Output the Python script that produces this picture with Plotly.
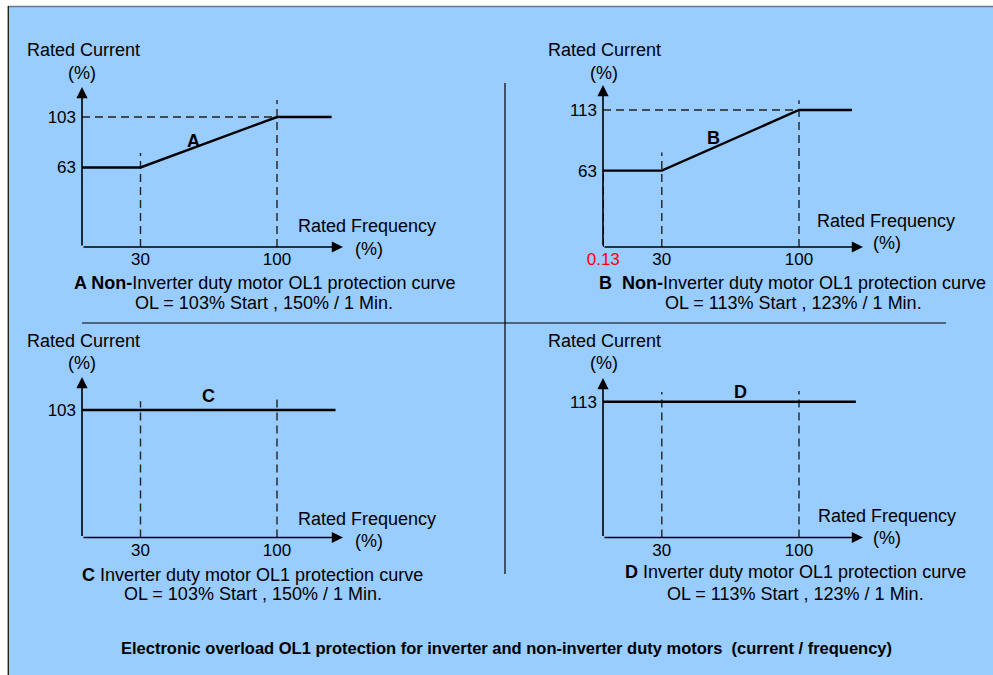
import plotly.graph_objects as go

W, H = 993, 675

# ---------------- data ----------------
freq_A = [0, 30, 100, 128]
curr_A = [63, 63, 103, 103]
freq_B = [0, 30, 100, 127]
curr_B = [63, 63, 113, 113]
freq_C = [0, 30, 100, 130]
curr_C = [103, 103, 103, 103]
freq_D = [0, 30, 100, 129]
curr_D = [113, 113, 113, 113]

xticks_A = [30, 100]
xticks_B = [0.13, 30, 100]
xticks_C = [30, 100]
xticks_D = [30, 100]
yticks_A = [63, 103]
yticks_B = [63, 113]
yticks_C = [103]
yticks_D = [113]

# dashed guides: (frequency, top current) for verticals, current level for horizontals
vguides_A = [(30, 74.5), (100, 116.5)]
vguides_B = [(0.13, 63), (30, 78), (100, 121)]
vguides_C = [(30, 110), (100, 112)]
vguides_D = [(30, 121), (100, 122)]
hguides_A = [103]
hguides_B = [113]
hguides_C = []
hguides_D = []

curve_labels = ["A", "B", "C", "D"]
captions_1 = [
    "<b>A Non-</b>Inverter duty motor OL1 protection curve",
    "<b>B&nbsp; Non-</b>Inverter duty motor OL1 protection curve",
    "<b>C</b> Inverter duty motor OL1 protection curve",
    "<b>D</b> Inverter duty motor OL1 protection curve",
]
captions_2 = [
    "OL = 103% Start , 150% / 1 Min.",
    "OL = 113% Start , 123% / 1 Min.",
    "OL = 103% Start , 150% / 1 Min.",
    "OL = 113% Start , 123% / 1 Min.",
]
y_title = "Rated Current"
x_title = "Rated Frequency"
unit = "(%)"
main_title = ("<b>Electronic overload OL1 protection for inverter and non-inverter duty motors"
              "&nbsp; (current / frequency)</b>")

# ---------------- layout geometry (pixels) ----------------
FONT = "Liberation Sans, Arial, sans-serif"
BG = "#99CCFF"

def P(x, y):
    return x / W, 1 - y / H

# x0px, x100px, xtip, y0px, yval, ypx, ytip
geoms = [
    (82, 277, 343, 247, 103, 117, 87),
    (603, 799, 863, 247, 113, 110, 85),
    (82, 277, 343, 537.5, 103, 410, 377),
    (603, 799, 863, 537.5, 113, 401.7, 378),
]
text_pos = [
    dict(rc=(83, 50), rcu=(82, 73), rf=(367, 226), rfu=(369, 249), lab=(193, 141), c1=(264, 283), c2=(264, 303)),
    dict(rc=(604, 50), rcu=(604, 73), rf=(886, 221), rfu=(887, 243), lab=(713, 138), c1=(792, 283), c2=(793, 303)),
    dict(rc=(83, 341), rcu=(82, 363), rf=(367, 519), rfu=(369, 541), lab=(208, 396), c1=(252, 575), c2=(253, 594)),
    dict(rc=(604, 341), rcu=(604, 363), rf=(887, 516), rfu=(887, 538), lab=(740, 392), c1=(795, 572), c2=(795, 594)),
]

freqs = [freq_A, freq_B, freq_C, freq_D]
currs = [curr_A, curr_B, curr_C, curr_D]
xticks = [xticks_A, xticks_B, xticks_C, xticks_D]
yticks = [yticks_A, yticks_B, yticks_C, yticks_D]
vguides = [vguides_A, vguides_B, vguides_C, vguides_D]
hguides = [hguides_A, hguides_B, hguides_C, hguides_D]

fig = go.Figure()
annotations = []
layout_axes = {}

for i in range(4):
    x0, x100, xtip, y0, yv, ypx, ytip = geoms[i]
    kx = (x100 - x0) / 100.0
    ky = (y0 - ypx) / yv
    xr = [0, (xtip - x0) / kx]
    yr = [0, (y0 - ytip) / ky]
    sfx = "" if i == 0 else str(i + 1)
    xa, ya = "x" + sfx, "y" + sfx

    xt_text = [("<span style='color:#FF0000'>%g</span>" % v) if v < 1 else ("%g" % v) for v in xticks[i]]
    layout_axes["xaxis" + sfx] = dict(
        domain=[x0 / W, xtip / W], range=xr, anchor=ya, showgrid=False, zeroline=False,
        showline=False, ticks="", tickvals=xticks[i], ticktext=xt_text, automargin=False,
        tickfont=dict(family=FONT, size=17, color="black"), fixedrange=True,
    )
    layout_axes["yaxis" + sfx] = dict(
        domain=[1 - y0 / H, 1 - ytip / H], range=yr, anchor=xa, showgrid=False, zeroline=False,
        showline=False, ticks="", tickvals=yticks[i], ticktext=["%g" % v for v in yticks[i]],
        automargin=False, ticklabelstandoff=5,
        tickfont=dict(family=FONT, size=17, color="black"), fixedrange=True,
    )

    # dashed guides
    gx, gy = [], []
    for f, top in vguides[i]:
        gx += [f, f, None]
        gy += [0, top, None]
    for c in hguides[i]:
        gx += [0, 100, None]
        gy += [c, c, None]
    if gx:
        fig.add_trace(go.Scatter(x=gx, y=gy, mode="lines", xaxis=xa, yaxis=ya,
                                 line=dict(color="#222222", width=1.4, dash="8px,5px"),
                                 hoverinfo="skip", showlegend=False))
    # curve
    fig.add_trace(go.Scatter(x=freqs[i], y=currs[i], mode="lines", xaxis=xa, yaxis=ya,
                             line=dict(color="black", width=2.4), showlegend=False,
                             cliponaxis=False))

    # axes with arrows
    for (tx, ty) in [(xr[1], 0), (0, yr[1])]:
        annotations.append(dict(
            x=tx, y=ty, ax=0, ay=0, xref=xa, yref=ya, axref=xa, ayref=ya,
            text="", showarrow=True, arrowhead=2, arrowsize=1.4, arrowwidth=1.6,
            arrowcolor="black", standoff=0,
        ))

    tp = text_pos[i]
    def txt(pos, s, size=18, bold=False):
        px, py = P(*pos)
        annotations.append(dict(x=px, y=py, xref="paper", yref="paper", text=("<b>%s</b>" % s) if bold else s,
                                showarrow=False, xanchor="center", yanchor="middle",
                                font=dict(family=FONT, size=size, color="black")))
    txt(tp["rc"], y_title)
    txt(tp["rcu"], unit)
    txt(tp["rf"], x_title)
    txt(tp["rfu"], unit)
    txt(tp["lab"], curve_labels[i], size=18, bold=True)
    txt(tp["c1"], captions_1[i])
    txt(tp["c2"], captions_2[i])

# main title
tx, ty = P(507, 648)
annotations.append(dict(x=tx, y=ty, xref="paper", yref="paper", text=main_title, showarrow=False,
                        xanchor="center", yanchor="middle", font=dict(family=FONT, size=16.5, color="black")))

shapes = [
    # white strip on top and left, plus frame lines
    dict(type="rect", xref="paper", yref="paper", x0=0, x1=1, y0=1 - 6 / H, y1=1,
         fillcolor="white", line=dict(width=0), layer="below"),
    dict(type="rect", xref="paper", yref="paper", x0=0, x1=8 / W, y0=0, y1=1,
         fillcolor="white", line=dict(width=0), layer="below"),
    dict(type="line", xref="paper", yref="paper", x0=8 / W, x1=1, y0=1 - 6.5 / H, y1=1 - 6.5 / H,
         line=dict(color="#6f7780", width=1.6)),
    dict(type="line", xref="paper", yref="paper", x0=8.3 / W, x1=8.3 / W, y0=0, y1=1 - 6 / H,
         line=dict(color="#222222", width=1.4)),
    # dividers
    dict(type="line", xref="paper", yref="paper", x0=505 / W, x1=505 / W, y0=1 - 574 / H, y1=1 - 83 / H,
         line=dict(color="black", width=1.2)),
    dict(type="line", xref="paper", yref="paper", x0=82 / W, x1=946 / W, y0=1 - 323 / H, y1=1 - 323 / H,
         line=dict(color="black", width=1.2)),
]

fig.update_layout(
    width=W, height=H, margin=dict(l=0, r=0, t=0, b=0, pad=0, autoexpand=False), autosize=False,
    paper_bgcolor=BG, plot_bgcolor="rgba(0,0,0,0)",
    showlegend=False, annotations=annotations, shapes=shapes,
    font=dict(family=FONT, color="black"),
    **layout_axes,
)

fig.write_html("out.html", config={"displayModeBar": False, "responsive": False},
               post_script="document.body.style.margin='0px';document.body.style.padding='0px';")
